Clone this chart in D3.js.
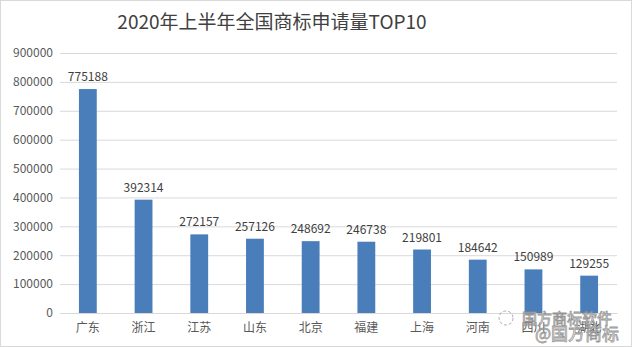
<!DOCTYPE html>
<html><head><meta charset="utf-8">
<script src="https://cdn.jsdelivr.net/npm/d3@7"></script>
<style>body{margin:0;background:#fff}svg{display:block;font-family:"Microsoft YaHei","Noto Sans CJK SC",sans-serif}</style>
</head><body><svg id="c" width="632" height="347"></svg>
<script>
const categories = ["广东","浙江","江苏","山东","北京","福建","上海","河南","四川","湖北"];
const values = [775188,392314,272157,257126,248692,246738,219801,184642,150989,129255];
const yTicks = [0,100000,200000,300000,400000,500000,600000,700000,800000,900000];
const title = "2020年上半年全国商标申请量TOP10";
const watermark = ["国方商标软件","@国方商标"];

const svg = d3.select("#c");
svg.append("rect").attr("x",0.5).attr("y",0.5).attr("width",631).attr("height",346)
  .attr("fill","#fff").attr("stroke","#d9d9d9");
const m = {l:60, r:15, t:53, b:34};
const W = 632, H = 347;
const x = d3.scaleBand().domain(categories).range([m.l, W-m.r]).paddingInner(0.68).paddingOuter(0.34);
const y = d3.scaleLinear().domain([0,900000]).range([H-m.b, m.t]);

svg.append("text").attr("x",272).attr("y",29).attr("text-anchor","middle")
  .attr("font-size",19).attr("fill","#404040").text(title);

const ya = svg.append("g").attr("transform",`translate(${m.l},0)`)
  .call(d3.axisLeft(y).tickValues(yTicks).tickSize(-(W-m.l-m.r)).tickPadding(7).tickFormat(d3.format("d")));
ya.select(".domain").remove();
ya.selectAll("line").attr("stroke","#d9d9d9");
ya.selectAll("text").attr("font-size",12).attr("fill","#595959").attr("font-family","Microsoft YaHei,Noto Sans CJK SC,sans-serif");

svg.selectAll("rect.bar").data(values).enter().append("rect").attr("class","bar")
  .attr("x",(d,i)=>x(categories[i])).attr("width",x.bandwidth())
  .attr("y",d=>y(d)).attr("height",d=>y(0)-y(d)).attr("fill","#4a7ebb");

svg.selectAll("text.val").data(values).enter().append("text").attr("class","val")
  .attr("x",(d,i)=>x(categories[i])+x.bandwidth()/2).attr("y",d=>y(d)-8)
  .attr("text-anchor","middle").attr("font-size",12).attr("fill","#404040").text(d=>d);

const xa = svg.append("g").attr("transform",`translate(0,${y(0)})`)
  .call(d3.axisBottom(x).tickSize(0).tickPadding(10));
xa.select(".domain").attr("stroke","#d9d9d9");
xa.selectAll("text").attr("font-size",12).attr("fill","#595959").attr("font-family","Microsoft YaHei,Noto Sans CJK SC,sans-serif");

// watermark overlay (as in the reference image)
const wm = svg.append("g").attr("fill","#fff").attr("stroke","#8c8c8c").attr("stroke-width",0.8).attr("opacity",0.9);
wm.append("circle").attr("cx",506).attr("cy",318).attr("r",7).attr("fill","none").attr("stroke-dasharray","3,2");
wm.append("text").attr("x",522).attr("y",324).attr("font-size",15).text(watermark[0]);
wm.append("text").attr("x",535).attr("y",340).attr("font-size",17).text(watermark[1]);
</script></body></html>
